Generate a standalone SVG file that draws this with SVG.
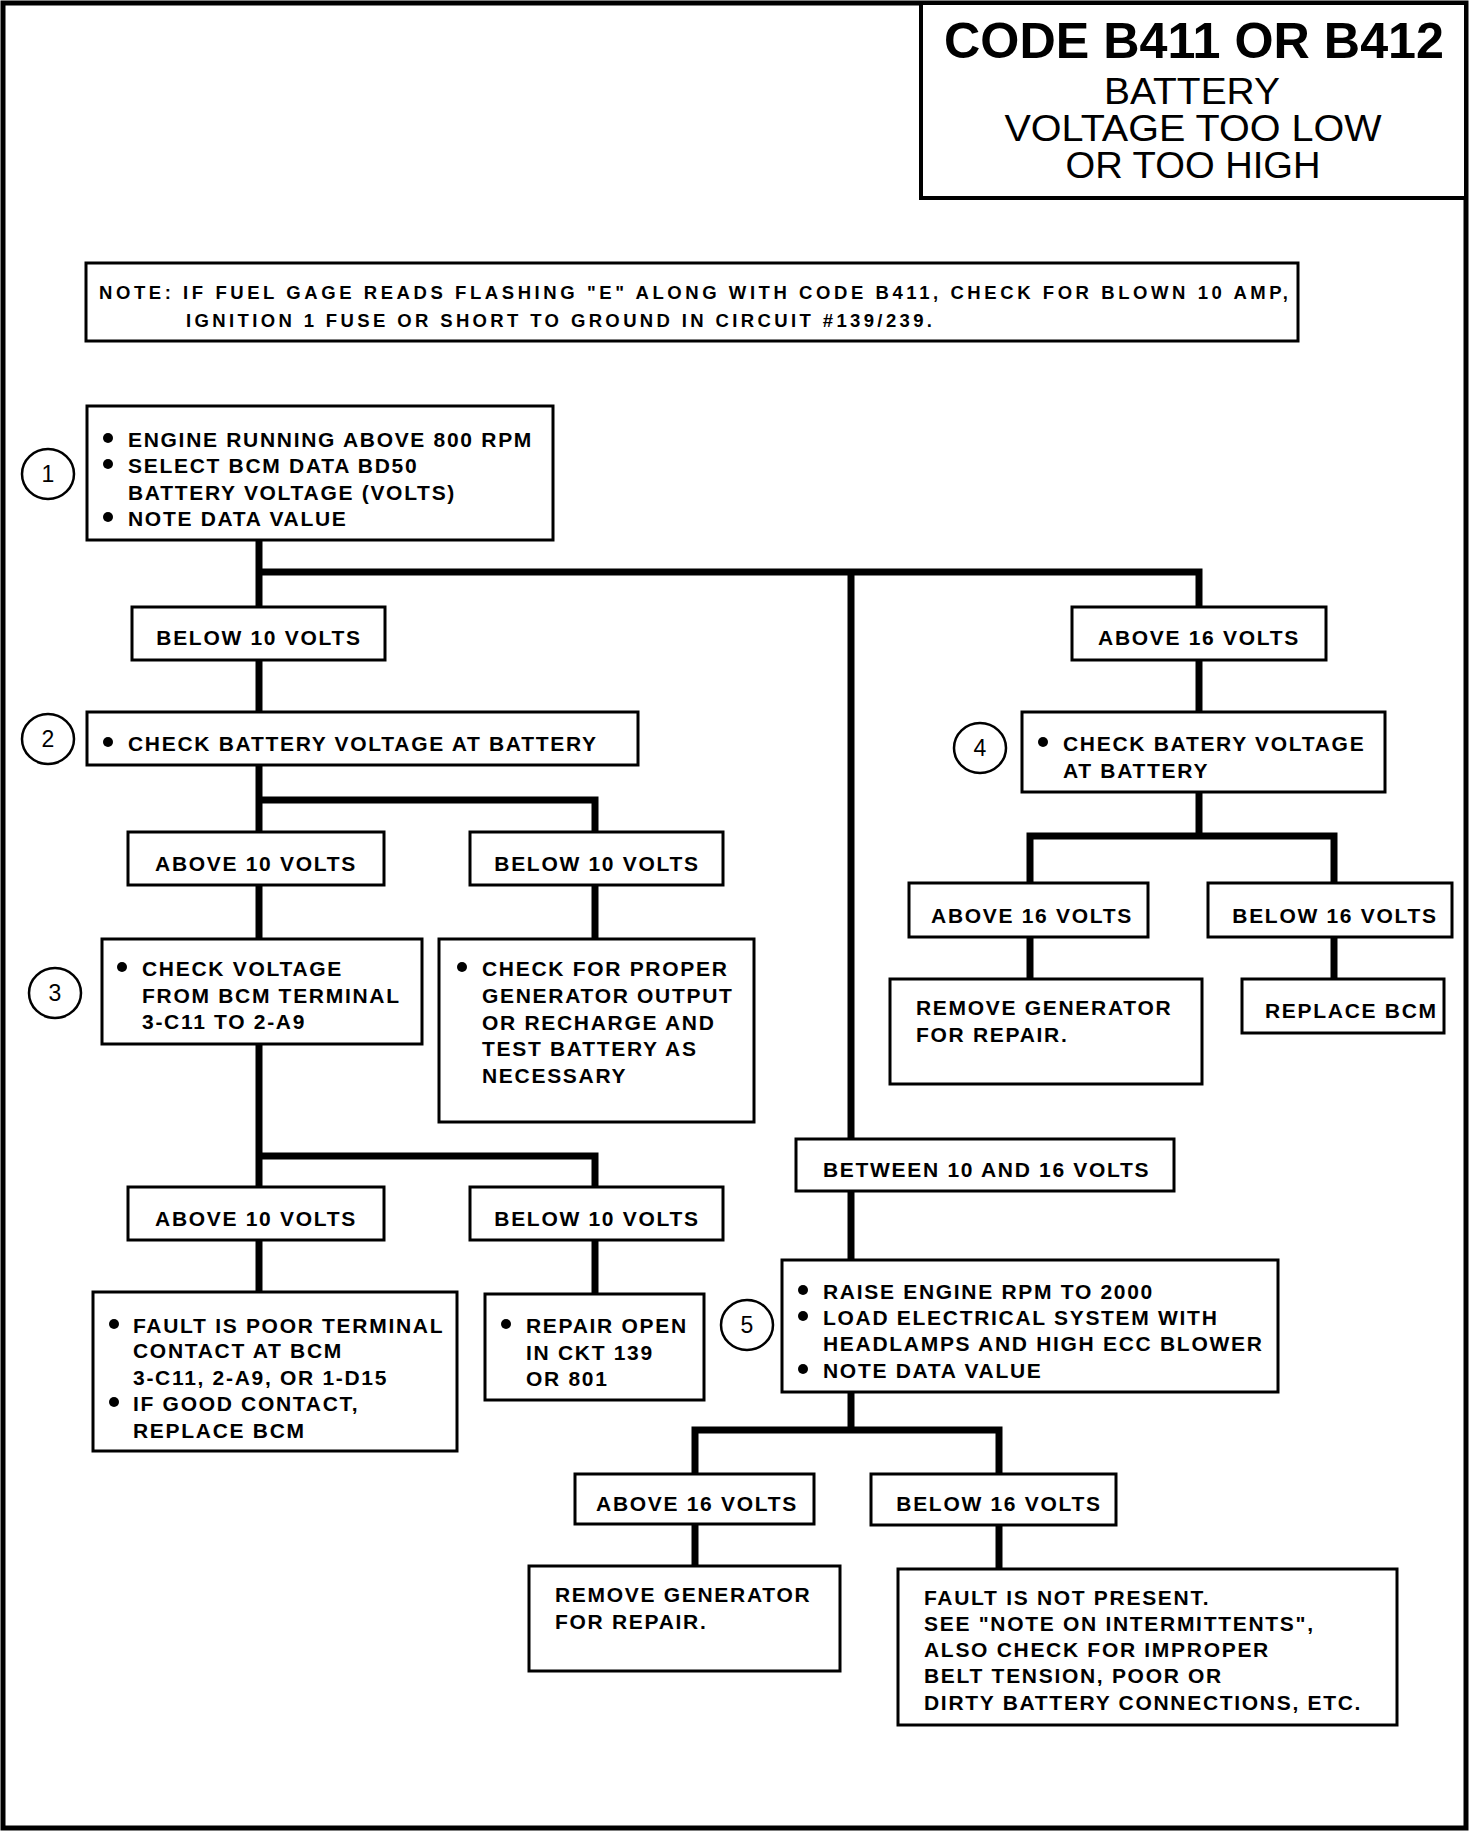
<svg xmlns="http://www.w3.org/2000/svg" width="1472" height="1832" viewBox="0 0 1472 1832">
<style>
  .bg{fill:#fff}
  .frame{fill:none;stroke:#000;stroke-width:5}
  .box{fill:#fff;stroke:#000;stroke-width:3}
  .conn{fill:none;stroke:#000;stroke-width:7;stroke-linejoin:miter;stroke-linecap:butt}
  .circ{fill:#fff;stroke:#000;stroke-width:2.5}
  .t{font-family:"Liberation Sans",Arial,sans-serif;font-weight:bold;font-size:21px;letter-spacing:1.7px;fill:#000}
  .c{text-anchor:middle}
  .num{font-family:"Liberation Sans",Arial,sans-serif;font-size:23px;text-anchor:middle;fill:#000}
  .title{font-family:"Liberation Sans",Arial,sans-serif;text-anchor:middle;fill:#000}
  .note{font-family:"Liberation Sans",Arial,sans-serif;font-weight:bold;font-size:18.5px;fill:#000}
  .dot{fill:#000}
</style>
<rect class="bg" x="0" y="0" width="1472" height="1832"/>
<rect class="frame" x="3" y="3" width="1463" height="1825"/>

<g id="title">
  <rect class="box" x="921" y="3" width="545" height="195" style="stroke-width:4"/>
  <text class="title" x="1194" y="58" font-size="50" font-weight="bold" textLength="500" lengthAdjust="spacingAndGlyphs">CODE B411 OR B412</text>
  <text class="title" x="1192" y="104" font-size="36" textLength="176" lengthAdjust="spacingAndGlyphs">BATTERY</text>
  <text class="title" x="1193" y="141" font-size="36" textLength="377" lengthAdjust="spacingAndGlyphs">VOLTAGE TOO LOW</text>
  <text class="title" x="1193" y="178" font-size="36" textLength="255" lengthAdjust="spacingAndGlyphs">OR TOO HIGH</text>
</g>

<g id="note">
  <rect class="box" x="86" y="263" width="1212" height="78"/>
  <text class="note" x="99" y="299" textLength="1189" lengthAdjust="spacing">NOTE: IF FUEL GAGE READS FLASHING "E" ALONG WITH CODE B411, CHECK FOR BLOWN 10 AMP,</text>
  <text class="note" x="186" y="327" textLength="746" lengthAdjust="spacing">IGNITION 1 FUSE OR SHORT TO GROUND IN CIRCUIT #139/239.</text>
</g>

<g id="connectors">
  <path class="conn" d="M259 540 V607"/>
  <path class="conn" d="M259 572 H1199 V607"/>
  <path class="conn" d="M851 572 V1139"/>
  <path class="conn" d="M259 660 V712"/>
  <path class="conn" d="M1199 660 V712"/>
  <path class="conn" d="M259 765 V832"/>
  <path class="conn" d="M259 800 H595 V832"/>
  <path class="conn" d="M259 885 V939"/>
  <path class="conn" d="M595 885 V939"/>
  <path class="conn" d="M259 1044 V1187"/>
  <path class="conn" d="M259 1156 H595 V1187"/>
  <path class="conn" d="M259 1240 V1292"/>
  <path class="conn" d="M595 1240 V1294"/>
  <path class="conn" d="M1199 792 V836"/>
  <path class="conn" d="M1030 883 V836 H1334 V883"/>
  <path class="conn" d="M1030 937 V979"/>
  <path class="conn" d="M1334 937 V979"/>
  <path class="conn" d="M851 1191 V1260"/>
  <path class="conn" d="M851 1392 V1430"/>
  <path class="conn" d="M695 1474 V1430 H999 V1474"/>
  <path class="conn" d="M695 1524 V1566"/>
  <path class="conn" d="M999 1525 V1569"/>
</g>

<g id="step1">
  <ellipse class="circ" cx="48" cy="474" rx="26" ry="25"/>
  <text class="num" x="48" y="482">1</text>
  <rect class="box" x="87" y="406" width="466" height="134"/>
  <circle class="dot" cx="108" cy="438" r="5"/>
  <text class="t" x="128" y="447">ENGINE RUNNING ABOVE 800 RPM</text>
  <circle class="dot" cx="108" cy="464" r="5"/>
  <text class="t" x="128" y="473">SELECT BCM DATA BD50</text>
  <text class="t" x="128" y="500">BATTERY VOLTAGE (VOLTS)</text>
  <circle class="dot" cx="108" cy="517" r="5"/>
  <text class="t" x="128" y="526">NOTE DATA VALUE</text>
</g>

<g id="below10a">
  <rect class="box" x="132" y="607" width="253" height="53"/>
  <text class="t c" x="259" y="645">BELOW 10 VOLTS</text>
</g>

<g id="step2">
  <ellipse class="circ" cx="48" cy="739" rx="26" ry="25"/>
  <text class="num" x="48" y="747">2</text>
  <rect class="box" x="87" y="712" width="551" height="53"/>
  <circle class="dot" cx="108" cy="742" r="5"/>
  <text class="t" x="128" y="751">CHECK BATTERY VOLTAGE AT BATTERY</text>
</g>

<g id="above10b">
  <rect class="box" x="128" y="832" width="256" height="53"/>
  <text class="t c" x="256" y="871">ABOVE 10 VOLTS</text>
</g>
<g id="below10b">
  <rect class="box" x="470" y="832" width="253" height="53"/>
  <text class="t c" x="597" y="871">BELOW 10 VOLTS</text>
</g>

<g id="step3">
  <ellipse class="circ" cx="55" cy="993" rx="26" ry="25"/>
  <text class="num" x="55" y="1001">3</text>
  <rect class="box" x="102" y="939" width="320" height="105"/>
  <circle class="dot" cx="122" cy="967" r="5"/>
  <text class="t" x="142" y="976">CHECK VOLTAGE</text>
  <text class="t" x="142" y="1003">FROM BCM TERMINAL</text>
  <text class="t" x="142" y="1029">3-C11 TO 2-A9</text>
</g>

<g id="generatorcheck">
  <rect class="box" x="439" y="939" width="315" height="183"/>
  <circle class="dot" cx="462" cy="967" r="5"/>
  <text class="t" x="482" y="976">CHECK FOR PROPER</text>
  <text class="t" x="482" y="1003">GENERATOR OUTPUT</text>
  <text class="t" x="482" y="1030">OR RECHARGE AND</text>
  <text class="t" x="482" y="1056">TEST BATTERY AS</text>
  <text class="t" x="482" y="1083">NECESSARY</text>
</g>

<g id="above10c">
  <rect class="box" x="128" y="1187" width="256" height="53"/>
  <text class="t c" x="256" y="1226">ABOVE 10 VOLTS</text>
</g>
<g id="below10c">
  <rect class="box" x="470" y="1187" width="253" height="53"/>
  <text class="t c" x="597" y="1226">BELOW 10 VOLTS</text>
</g>

<g id="poorcontact">
  <rect class="box" x="93" y="1292" width="364" height="159"/>
  <circle class="dot" cx="114" cy="1324" r="5"/>
  <text class="t" x="133" y="1333">FAULT IS POOR TERMINAL</text>
  <text class="t" x="133" y="1358">CONTACT AT BCM</text>
  <text class="t" x="133" y="1385">3-C11, 2-A9, OR 1-D15</text>
  <circle class="dot" cx="114" cy="1402" r="5"/>
  <text class="t" x="133" y="1411">IF GOOD CONTACT,</text>
  <text class="t" x="133" y="1438">REPLACE BCM</text>
</g>

<g id="repairopen">
  <rect class="box" x="485" y="1294" width="219" height="106"/>
  <circle class="dot" cx="506" cy="1324" r="5"/>
  <text class="t" x="526" y="1333">REPAIR OPEN</text>
  <text class="t" x="526" y="1360">IN CKT 139</text>
  <text class="t" x="526" y="1386">OR 801</text>
</g>

<g id="above16a">
  <rect class="box" x="1072" y="607" width="254" height="53"/>
  <text class="t c" x="1199" y="645">ABOVE 16 VOLTS</text>
</g>

<g id="step4">
  <ellipse class="circ" cx="980" cy="748" rx="26" ry="25"/>
  <text class="num" x="980" y="756">4</text>
  <rect class="box" x="1022" y="712" width="363" height="80"/>
  <circle class="dot" cx="1043" cy="742" r="5"/>
  <text class="t" x="1063" y="751">CHECK BATERY VOLTAGE</text>
  <text class="t" x="1063" y="778">AT BATTERY</text>
</g>

<g id="above16b">
  <rect class="box" x="909" y="883" width="239" height="54"/>
  <text class="t c" x="1032" y="923">ABOVE 16 VOLTS</text>
</g>
<g id="below16b">
  <rect class="box" x="1208" y="883" width="244" height="54"/>
  <text class="t c" x="1335" y="923">BELOW 16 VOLTS</text>
</g>

<g id="removegen1">
  <rect class="box" x="890" y="979" width="312" height="105"/>
  <text class="t" x="916" y="1015">REMOVE GENERATOR</text>
  <text class="t" x="916" y="1042">FOR REPAIR.</text>
</g>
<g id="replacebcm">
  <rect class="box" x="1242" y="979" width="202" height="54"/>
  <text class="t" x="1265" y="1018">REPLACE BCM</text>
</g>

<g id="between">
  <rect class="box" x="796" y="1139" width="378" height="52"/>
  <text class="t" x="823" y="1177">BETWEEN 10 AND 16 VOLTS</text>
</g>

<g id="step5">
  <ellipse class="circ" cx="747" cy="1325" rx="26" ry="25"/>
  <text class="num" x="747" y="1333">5</text>
  <rect class="box" x="782" y="1260" width="496" height="132"/>
  <circle class="dot" cx="803" cy="1290" r="5"/>
  <text class="t" x="823" y="1299">RAISE ENGINE RPM TO 2000</text>
  <circle class="dot" cx="803" cy="1316" r="5"/>
  <text class="t" x="823" y="1325">LOAD ELECTRICAL SYSTEM WITH</text>
  <text class="t" x="823" y="1351">HEADLAMPS AND HIGH ECC BLOWER</text>
  <circle class="dot" cx="803" cy="1369" r="5"/>
  <text class="t" x="823" y="1378">NOTE DATA VALUE</text>
</g>

<g id="above16c">
  <rect class="box" x="575" y="1474" width="239" height="50"/>
  <text class="t c" x="697" y="1511">ABOVE 16 VOLTS</text>
</g>
<g id="below16c">
  <rect class="box" x="871" y="1474" width="245" height="51"/>
  <text class="t c" x="999" y="1511">BELOW 16 VOLTS</text>
</g>

<g id="removegen2">
  <rect class="box" x="529" y="1566" width="311" height="105"/>
  <text class="t" x="555" y="1602">REMOVE GENERATOR</text>
  <text class="t" x="555" y="1629">FOR REPAIR.</text>
</g>

<g id="notpresent">
  <rect class="box" x="898" y="1569" width="499" height="156"/>
  <text class="t" x="924" y="1605">FAULT IS NOT PRESENT.</text>
  <text class="t" x="924" y="1631">SEE "NOTE ON INTERMITTENTS",</text>
  <text class="t" x="924" y="1657">ALSO CHECK FOR IMPROPER</text>
  <text class="t" x="924" y="1683">BELT TENSION, POOR OR</text>
  <text class="t" x="924" y="1710">DIRTY BATTERY CONNECTIONS, ETC.</text>
</g>
</svg>
